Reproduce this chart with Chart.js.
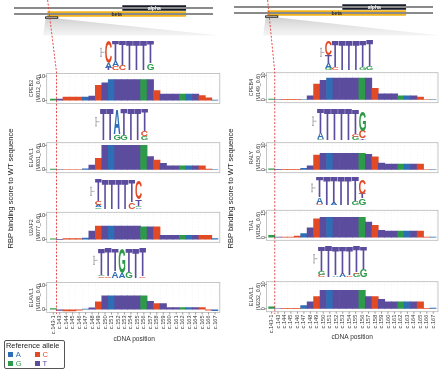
<!DOCTYPE html>
<html>
<head>
<meta charset="utf-8">
<script src="https://cdn.jsdelivr.net/npm/chart.js@4.4.1/dist/chart.umd.min.js"></script>
<style>
html,body{margin:0;padding:0;background:#ffffff;}
#fig{position:relative;width:440px;height:375px;overflow:hidden;font-family:"Liberation Sans",Arial,Helvetica,sans-serif;color:#222;}
#fig canvas{position:absolute;}
.lbl{position:absolute;white-space:nowrap;}
#legend{position:absolute;left:4px;top:340px;width:61px;height:29px;border:1px solid #555;border-radius:2px;box-sizing:border-box;}
</style>
</head>
<body>
<div id="fig"></div>
<script>
Chart.defaults.font.family = '"Liberation Sans", Arial, Helvetica, sans-serif';

// ---------------- DATA ----------------
const POSITIONS = ['c.143-1','c.143','c.144','c.145','c.146','c.147','c.148','c.149','c.150','c.151','c.152','c.153','c.154','c.155','c.156','c.157','c.158','c.159','c.160','c.161','c.162','c.163','c.164','c.165','c.166','c.167'];
const REF_ALLELE = ['G','T','C','C','C','A','T','C','T','A','T','T','T','T','G','T','C','T','T','T','G','A','T','C','C','A'];
const ALLELE_COLORS = {A:'#2f6db5', C:'#e24a26', G:'#2d9a4a', T:'#5b4c9e'};
const LEGEND_ALLELES = ['A','C','G','T'];
const LEGEND_TITLE = 'Reference allele';
const Y_TITLE = 'RBP binding score to WT sequence';
const X_TITLE = 'cDNA position';

const PANEL_NAMES  = ['CPEB2','ELAVL1','U2AF2','ELAVL1','CPEB4','RALY','TIA1','ELAVL1'];
const PANEL_MOTIFS = ['(M012_0.6)','(M031_0.6)','(M077_0.6)','(M108_0.6)','(M149_0.6)','(M150_0.6)','(M156_0.6)','(M232_0.6)'];

const SCORE_CPEB2_M012  = [0.6,0.6,1.4,1.4,1.4,1.4,1.8,6.2,7.3,8.6,8.6,8.6,8.6,8.6,8.6,8.6,4.1,2.7,2.7,2.7,2.7,2.7,2.7,2.0,1.1,0.2];
const SCORE_ELAVL1_M031 = [0.3,0.0,0.1,0.1,0.1,0.4,1.9,4.7,10.0,10.0,10.0,10.0,10.0,10.0,10.0,5.4,4.0,2.6,1.6,1.6,1.6,1.6,1.6,1.6,0.3,0.1];
const SCORE_U2AF2_M077  = [0.2,0.0,0.3,0.3,0.3,0.5,3.4,5.5,5.5,5.5,5.5,5.5,5.5,5.5,5.1,5.1,5.1,1.7,1.7,1.7,1.7,1.7,1.7,1.7,1.7,0.3];
const SCORE_ELAVL1_M108 = [0.4,-0.3,-0.6,-0.6,-0.2,0.2,0.7,3.2,5.6,5.6,5.6,5.6,5.6,5.6,5.6,3.4,2.5,2.5,0.8,0.8,0.8,0.8,0.8,0.8,-0.2,-0.5];
const SCORE_CPEB4_M149  = [0.3,0.1,0.2,0.2,0.2,0.0,1.6,6.4,8.0,8.9,8.9,8.9,8.9,8.9,8.9,8.9,4.7,2.4,2.4,2.4,1.6,1.6,1.6,1.1,0.1,0.1];
const SCORE_RALY_M150   = [0.4,0.2,0.2,0.2,0.2,0.6,1.6,6.0,6.7,6.7,6.7,6.7,6.7,6.7,6.7,6.3,5.3,2.7,2.3,2.3,2.3,2.3,2.3,2.3,0.1,0.1];
const SCORE_TIA1_M156   = [1.2,0.1,0.2,0.2,0.8,2.4,5.8,11.4,12.4,12.4,12.4,12.4,12.4,12.4,12.4,9.4,7.4,4.4,3.8,3.8,3.8,3.8,3.8,3.8,0.2,0.1];
const SCORE_ELAVL1_M232 = [0.8,0.0,0.2,0.2,0.2,1.3,2.8,5.0,7.6,7.6,7.6,7.6,7.6,7.6,7.6,5.0,5.0,3.9,2.8,2.8,2.8,2.8,2.8,2.8,0.2,0.3];
const PANEL_SCORES = [SCORE_CPEB2_M012,SCORE_ELAVL1_M031,SCORE_U2AF2_M077,SCORE_ELAVL1_M108,SCORE_CPEB4_M149,SCORE_RALY_M150,SCORE_TIA1_M156,SCORE_ELAVL1_M232];

const Y_TICKS_10 = [0,10];
const Y_TICKS_15 = [0,15];
const PANEL_YTICKS = [Y_TICKS_10,Y_TICKS_10,Y_TICKS_10,Y_TICKS_10,Y_TICKS_10,Y_TICKS_10,Y_TICKS_15,Y_TICKS_10];

// sequence logos: columns, each a bottom-to-top stack of [letter, bits]
const LOGO_CPEB2_M012  = [[['T',0.12],['A',0.3],['C',1.45]],[['C',0.25],['A',0.3],['T',1.35]],[['C',0.3],['T',1.6]],[['T',1.9]],[['T',1.9]],[['T',1.9]],[['G',0.45],['T',1.45]]];
const LOGO_ELAVL1_M031 = [[['T',1.95]],[['T',1.95]],[['G',0.35],['A',1.55]],[['G',0.3],['T',1.6]],[['T',1.95]],[['T',1.95]],[['G',0.25],['C',0.3],['T',1.4]]];
const LOGO_U2AF2_M077  = [[['G',0.1],['A',0.15],['C',0.25],['T',1.4]],[['T',1.9]],[['T',1.9]],[['T',1.9]],[['T',1.9]],[['C',0.45],['T',1.4]],[['A',0.1],['G',0.1],['T',0.4],['C',1.2]]];
const LOGO_ELAVL1_M108 = [[['C',0.1],['G',0.1],['T',1.7]],[['C',0.1],['T',1.8]],[['A',0.45],['T',1.45]],[['A',0.3],['G',1.6]],[['G',0.4],['T',1.5]],[['T',1.9]],[['C',0.1],['T',1.8]]];
const LOGO_CPEB4_M149  = [[['G',0.15],['A',0.3],['T',0.5],['C',0.95]],[['C',0.2],['T',1.7]],[['T',1.9]],[['T',1.9]],[['T',1.9]],[['G',0.2],['T',1.7]],[['G',0.25],['T',1.65]]];
const LOGO_RALY_M150   = [[['G',0.05],['A',0.35],['T',1.5]],[['T',1.9]],[['T',1.9]],[['T',1.9]],[['T',1.9]],[['G',0.2],['C',0.15],['T',1.5]],[['T',0.1],['C',0.45],['G',1.2]]];
const LOGO_TIA1_M156   = [[['C',0.1],['A',0.45],['T',1.35]],[['T',1.9]],[['A',0.15],['T',1.75]],[['T',1.9]],[['T',1.9]],[['G',0.25],['T',1.65]],[['G',0.45],['T',0.3],['C',0.95]]];
const LOGO_ELAVL1_M232 = [[['C',0.15],['G',0.2],['T',1.5]],[['T',1.9]],[['A',0.1],['T',1.8]],[['A',0.2],['T',1.7]],[['C',0.1],['T',1.8]],[['G',0.2],['C',0.1],['T',1.6]],[['G',0.5],['T',1.4]]];
const PANEL_LOGOS = [LOGO_CPEB2_M012,LOGO_ELAVL1_M031,LOGO_U2AF2_M077,LOGO_ELAVL1_M108,LOGO_CPEB4_M149,LOGO_RALY_M150,LOGO_TIA1_M156,LOGO_ELAVL1_M232];

// gene model (transcript coordinate, 0-100)
const GENE_ROWS = ['alpha','beta'];
const TRANSCRIPT_SPAN = [[0,100],[0,100]];
const EXON_SPAN = [[54.6,86.3],[16.9,86.3]];
const ZOOM_BRACKET = [15.9,22.0];

// ---------------- LAYOUT ----------------
const COLUMNS = [
  {x:0,   w:222, chartL:50,   chartR:218.3, gapL:3.3, gapR:1.5, nameX:34.5,  titleX:9.5, axisTitleX:134, axisTitleY:339, rotTicks:false, geneTop:0},
  {x:220, w:220, chartL:48.3, chartR:216.5, gapL:1.8, gapR:1.5, nameX:254.3, titleX:230, axisTitleX:352, axisTitleY:337, rotTicks:true,  geneTop:-1}
];
const PANEL_TOPS = [[73.5,142.7,212.3,282.5],[72.7,142.7,210.3,281.7]];
const PANEL_H = 30;
const LOGO_BOXES = [
  [{x:104.5,y:39,w:49,h:31},{x:100,y:108,w:48,h:32},{x:95,y:178,w:47,h:31},{x:98,y:247,w:48,h:31}],
  [{x:325,y:39,w:48,h:31},{x:317,y:107,w:49,h:33},{x:316,y:175,w:50,h:30},{x:318,y:245,w:49,h:32}]
];

const fig = document.getElementById('fig');
function mkCanvas(x,y,w,h){
  const c = document.createElement('canvas');
  c.width = w; c.height = h;
  c.style.left = x+'px'; c.style.top = y+'px';
  c.style.width = w+'px'; c.style.height = h+'px';
  fig.appendChild(c);
  return c;
}
function esc(s){return s.replace(/&/g,'&amp;').replace(/</g,'&lt;');}
function label(lines, cx, cy, size, rotate, lh, color){
  const d = document.createElement('div');
  d.className = 'lbl';
  d.style.fontSize = size+'px';
  d.style.lineHeight = (lh || Math.round(size*1.2))+'px';
  d.style.textAlign = 'center';
  d.style.color = color || '#222';
  d.innerHTML = lines.map(esc).join('<br>');
  fig.appendChild(d);
  const w = d.offsetWidth, h = d.offsetHeight;
  d.style.left = (cx - w/2)+'px';
  d.style.top = (cy - h/2)+'px';
  if (rotate) d.style.transform = 'rotate(-90deg)';
  return d;
}

// ---------------- PLUGINS ----------------
const framePlugin = {
  id:'frame',
  afterDatasetsDraw(chart, args, opts){
    const ctx = chart.ctx, a = chart.chartArea;
    const L = a.left - opts.gapL, R = a.right + opts.gapR;
    ctx.save();
    ctx.strokeStyle = '#b8b8b8'; ctx.lineWidth = 0.8;
    ctx.strokeRect(L, a.top, R-L, a.bottom-a.top);
    ctx.strokeStyle = '#555'; ctx.lineWidth = 0.6;
    ctx.beginPath();
    const ys = chart.scales.y;
    ys.ticks.forEach(t => { const py = ys.getPixelForValue(t.value); ctx.moveTo(L-2, py); ctx.lineTo(L, py); });
    if (opts.xTicks){
      const xs = chart.scales.x;
      for (let i=0;i<xs.ticks.length;i++){ const px = xs.getPixelForTick(i); ctx.moveTo(px, a.bottom); ctx.lineTo(px, a.bottom+2); }
    }
    ctx.stroke();
    ctx.restore();
  }
};

function drawGlyph(ctx, ch, color, x0, y0, w, h){
  if (h < 0.25 || w <= 0) return;
  ctx.save();
  ctx.font = 'bold 100px "Liberation Sans", Arial, sans-serif';
  ctx.textAlign = 'left'; ctx.textBaseline = 'alphabetic';
  const m = ctx.measureText(ch);
  const gw = m.actualBoundingBoxLeft + m.actualBoundingBoxRight;
  const gh = m.actualBoundingBoxAscent + m.actualBoundingBoxDescent;
  ctx.translate(x0, y0);
  ctx.scale(w/gw, h/gh);
  ctx.fillStyle = color;
  ctx.fillText(ch, m.actualBoundingBoxLeft, m.actualBoundingBoxAscent);
  ctx.restore();
}

const logoPlugin = {
  id:'logoGlyphs',
  afterDatasetsDraw(chart){
    const ctx = chart.ctx, a = chart.chartArea;
    chart.data.datasets.forEach((ds, di) => {
      const meta = chart.getDatasetMeta(di);
      meta.data.forEach((el, i) => {
        const letter = ds.letters[i];
        if (!letter || !ds.data[i]) return;
        const p = el.getProps(['x','y','base','width'], true);
        const top = Math.min(p.y, p.base), h = Math.abs(p.base - p.y);
        const w = p.width * 0.97;
        drawGlyph(ctx, letter, ALLELE_COLORS[letter], p.x - w/2, top, w, h);
      });
    });
    // small bits scale marker at left
    const h = a.bottom - a.top;
    ctx.save();
    ctx.strokeStyle = '#9a9a9a'; ctx.lineWidth = 0.8;
    ctx.beginPath();
    const x = a.left - 4, y1 = a.top + 0.3*h, y2 = a.top + 0.56*h;
    ctx.moveTo(x, y1); ctx.lineTo(x, y2);
    ctx.moveTo(x, (y1+y2)/2); ctx.lineTo(x+3.5, (y1+y2)/2);
    ctx.moveTo(x-1, y1); ctx.lineTo(x+1, y1);
    ctx.moveTo(x-1, y2); ctx.lineTo(x+1, y2);
    ctx.stroke();
    ctx.restore();
  }
};

const genePlugin = {
  id:'geneLabels',
  afterDatasetsDraw(chart){
    const ctx = chart.ctx;
    const meta = chart.getDatasetMeta(1);
    ctx.save();
    ctx.font = 'bold 5px "Liberation Sans", Arial, sans-serif';
    ctx.textAlign = 'center'; ctx.textBaseline = 'middle';
    meta.data.forEach((el, i) => {
      const p = el.getProps(['x','y','base'], true);
      ctx.fillStyle = i === 0 ? '#ffffff' : '#2a2a2a';
      ctx.fillText(GENE_ROWS[i], (p.x + p.base)/2, p.y + 0.3);
    });
    const xs = chart.scales.x;
    const bEl = meta.data[1].getProps(['y','height'], true);
    const by = bEl.y + bEl.height/2 + 0.4;
    const x1 = xs.getPixelForValue(ZOOM_BRACKET[0]), x2 = xs.getPixelForValue(ZOOM_BRACKET[1]);
    ctx.strokeStyle = '#111'; ctx.lineWidth = 0.9;
    ctx.strokeRect(x1, by, x2-x1, 1.5);
    ctx.restore();
  }
};

// ---------------- BUILD ----------------
const geneCharts = [], bottomCharts = [];

COLUMNS.forEach((col, ci) => {
  // gene model
  const gc = mkCanvas(col.x, col.geneTop, 220, 20);
  geneCharts.push(new Chart(gc, {
    type:'bar',
    data:{ labels: GENE_ROWS, datasets:[
      { data: TRANSCRIPT_SPAN, backgroundColor:'#8a8a8a', barThickness:1.3, grouped:false },
      { data: EXON_SPAN, backgroundColor:['#151b29','#f2b31a'], barThickness:5, grouped:false }
    ]},
    options:{ indexAxis:'y', responsive:false, animation:false, events:[], devicePixelRatio:1,
      layout:{ padding:{ left:14, right:7, top:5, bottom:3 } },
      plugins:{ legend:{display:false}, tooltip:{enabled:false} },
      scales:{ x:{ type:'linear', min:0, max:100, display:false }, y:{ display:false } } },
    plugins:[genePlugin]
  }));

  for (let r=0; r<4; r++){
    const idx = ci*4 + r;
    const isBottom = r === 3;
    const boxTop = PANEL_TOPS[ci][r];
    const cTop = Math.floor(boxTop) - 5;
    const padTop = boxTop - cTop;
    const xH = isBottom ? 28 : 0;
    const ch = Math.ceil(padTop + PANEL_H + xH + 3);
    const padBottom = ch - padTop - PANEL_H - xH;
    const ticks = PANEL_YTICKS[idx];
    const tMax = ticks[ticks.length-1];
    const cv = mkCanvas(col.x, cTop, col.w, ch);
    const values = PANEL_SCORES[idx];
    const chart = new Chart(cv, {
      type:'bar',
      data:{ labels: POSITIONS, datasets:[{
        data: values,
        backgroundColor: REF_ALLELE.map(a => ALLELE_COLORS[a]),
        borderWidth:0, barPercentage:1, categoryPercentage:1
      }]},
      options:{ responsive:false, animation:false, events:[], devicePixelRatio:1,
        layout:{ padding:{ left:0, right: col.w - col.chartR, top: padTop, bottom: padBottom } },
        plugins:{ legend:{display:false}, tooltip:{enabled:false}, frame:{ gapL: col.gapL, gapR: col.gapR, xTicks: isBottom } },
        scales:{
          x:{ type:'category', offset:true,
            grid:{ display:true, color:'rgba(0,0,0,0.07)', lineWidth:0.6, drawTicks:false },
            border:{ display:false, dash:[1,2] },
            ticks:{ display:isBottom, autoSkip:false, minRotation:90, maxRotation:90, padding:3, color:'#333', font:{ size:5.6 } },
            afterFit: s => { s.height = xH; s.paddingLeft = 0; s.paddingRight = 0; }
          },
          y:{ min: -tMax*0.12, max: tMax*1.11,
            afterBuildTicks: s => { s.ticks = ticks.map(v => ({value:v})); },
            grid:{ display:true, color:'rgba(0,0,0,0.08)', lineWidth:0.6, drawTicks:false },
            border:{ display:false, dash:[1,2] },
            ticks: col.rotTicks
              ? { color:'#333', font:{size:5.6}, minRotation:90, maxRotation:90, crossAlign:'center', padding:1.7 }
              : { color:'#333', font:{size:5.6}, padding: 5 },
            afterFit: s => { s.width = col.chartL; s.paddingTop = 0; s.paddingBottom = 0; }
          }
        }
      },
      plugins:[framePlugin]
    });
    if (isBottom) bottomCharts.push({chart, col});

    // panel name
    label([PANEL_NAMES[idx], PANEL_MOTIFS[idx]], col.nameX, boxTop + PANEL_H/2, 5.3, true, 6.6, '#333');

    // logo
    const lb = LOGO_BOXES[ci][r];
    const cols = PANEL_LOGOS[idx];
    const pad = 8;
    const lc = mkCanvas(Math.round(lb.x - pad), lb.y, Math.round(lb.w + pad), lb.h);
    const nLayers = Math.max(...cols.map(c => c.length));
    const datasets = [];
    for (let k=0;k<nLayers;k++){
      datasets.push({ data: cols.map(c => c[k] ? c[k][1] : 0), letters: cols.map(c => c[k] ? c[k][0] : null),
        backgroundColor:'rgba(0,0,0,0)', borderWidth:0, barPercentage:1, categoryPercentage:1 });
    }
    new Chart(lc, {
      type:'bar',
      data:{ labels: cols.map((_, i) => String(i+1)), datasets },
      options:{ responsive:false, animation:false, events:[], devicePixelRatio:1,
        layout:{ padding:{ left:pad, right:0, top:0, bottom:0 } },
        plugins:{ legend:{display:false}, tooltip:{enabled:false} },
        scales:{ x:{ display:false, stacked:true }, y:{ display:false, stacked:true, min:0, max:2 } } },
      plugins:[logoPlugin]
    });
  }

  // axis titles
  label([Y_TITLE], col.titleX, 188, 7.6, true, 9, '#222');
  label([X_TITLE], col.axisTitleX, col.axisTitleY, 6.6, false, 8, '#333');
});

// ---------------- OVERLAY: zoom wedge + dashed boundary line ----------------
const ov = mkCanvas(0, 0, 440, 375);
ov.style.zIndex = 10;
ov.style.pointerEvents = 'none';
const octx = ov.getContext('2d');
COLUMNS.forEach((col, ci) => {
  const g = geneCharts[ci];
  const gx = g.scales.x;
  const bx1 = gx.getPixelForValue(ZOOM_BRACKET[0]) + col.x;
  const bx2 = gx.getPixelForValue(ZOOM_BRACKET[1]) + col.x;
  const by = 18.4 + col.geneTop;
  const grad = octx.createLinearGradient(0, by, 0, 36);
  grad.addColorStop(0, 'rgba(170,170,170,0.55)');
  grad.addColorStop(1, 'rgba(225,225,225,0.35)');
  octx.fillStyle = grad;
  octx.beginPath();
  octx.moveTo(bx1, by); octx.lineTo(bx2, by);
  octx.lineTo(col.x + 220, 35.5); octx.lineTo(bx1 - 2.5, 35.5);
  octx.closePath(); octx.fill();

  const topX = gx.getPixelForValue(EXON_SPAN[1][0]) + col.x;
  const bc = bottomCharts[ci].chart;
  const xs = bc.scales.x;
  const vx = (xs.getPixelForValue(0) + xs.getPixelForValue(1))/2 + col.x;
  octx.save();
  octx.strokeStyle = '#e23a3a'; octx.lineWidth = 0.9; octx.setLineDash([2,1.6]);
  octx.beginPath();
  octx.moveTo(topX, 0); octx.lineTo(vx, 72); octx.lineTo(vx, 314);
  octx.stroke();
  octx.restore();
});

// ---------------- LEGEND ----------------
const lg = document.createElement('div');
lg.id = 'legend';
fig.appendChild(lg);
const lt = document.createElement('div');
lt.className = 'lbl';
lt.style.cssText = 'left:1px;top:0px;font-size:7.4px;line-height:9px;color:#222;';
lt.textContent = LEGEND_TITLE;
lg.appendChild(lt);
LEGEND_ALLELES.forEach((a, i) => {
  const cx = (i % 2) * 26.7 + 3.3, cy = Math.floor(i/2) * 9.4 + 10.7;
  const sq = document.createElement('div');
  sq.style.cssText = 'position:absolute;left:'+cx+'px;top:'+cy+'px;width:5px;height:5px;background:'+ALLELE_COLORS[a]+';';
  lg.appendChild(sq);
  const t = document.createElement('div');
  t.className = 'lbl';
  t.style.cssText = 'left:'+(cx+7.5)+'px;top:'+(cy-2)+'px;font-size:7.6px;line-height:9px;color:'+ALLELE_COLORS[a]+';';
  t.textContent = a;
  lg.appendChild(t);
});
</script>
</body>
</html>
